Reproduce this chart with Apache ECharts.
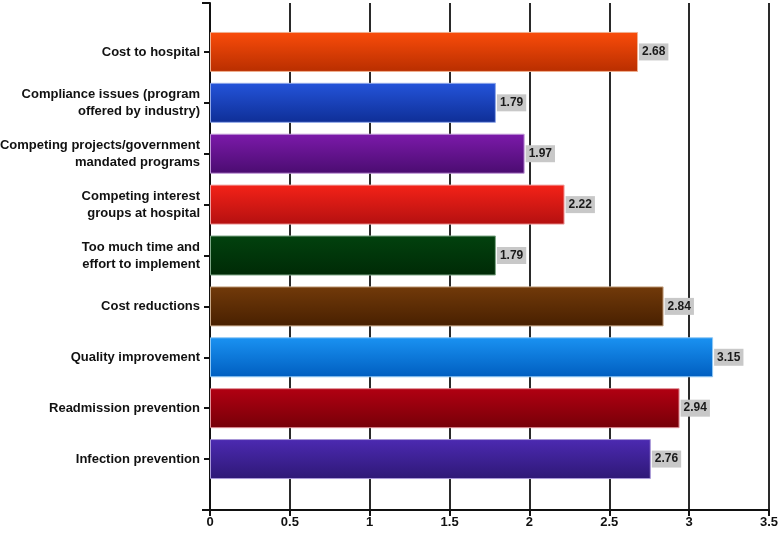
<!DOCTYPE html>
<html>
<head>
<meta charset="utf-8">
<script src="https://cdn.jsdelivr.net/npm/echarts@6/dist/echarts.min.js"></script>
<style>
  html, body { margin: 0; padding: 0; background: #fff; }
  #main { width: 780px; height: 533px; }
</style>
</head>
<body>
<div id="main"></div>
<script>
// data, top to bottom as in the picture
var categories = [
    'Cost to hospital',
    'Compliance issues (program\noffered by industry)',
    'Competing projects/government\nmandated programs',
    'Competing interest\ngroups at hospital',
    'Too much time and\neffort to implement',
    'Cost reductions',
    'Quality improvement',
    'Readmission prevention',
    'Infection prevention'
];
var values = [2.68, 1.79, 1.97, 2.22, 1.79, 2.84, 3.15, 2.94, 2.76];
var xTicks = [0, 0.5, 1, 1.5, 2, 2.5, 3, 3.5];

// top / bottom / border colour of each bar
var barColors = [
    ['#fa4c0a', '#b82e00', '#f0b090'],
    ['#2454da', '#0e2e96', '#90a8e8'],
    ['#7c1aaa', '#4a0c70', '#c098d8'],
    ['#f42218', '#b41010', '#f0a0a0'],
    ['#02420e', '#002a06', '#80a888'],
    ['#723a0a', '#482000', '#c8a888'],
    ['#1a92f2', '#005ec0', '#90c8f4'],
    ['#b20012', '#760008', '#e09098'],
    ['#4c2ab2', '#2e1876', '#a898d8']
];

var chart = echarts.init(document.getElementById('main'), null, { renderer: 'canvas' });

var barData = values.map(function (v, i) {
    var c = barColors[i];
    return {
        value: v,
        itemStyle: {
            color: new echarts.graphic.LinearGradient(0, 0, 0, 1, [
                { offset: 0, color: c[0] },
                { offset: 1, color: c[1] }
            ]),
            borderColor: c[2],
            borderWidth: 1
        }
    };
});

var option = {
    backgroundColor: '#ffffff',
    animation: false,
    grid: [
        { left: 210, right: 11, top: 3, bottom: 23, containLabel: false, outerBoundsMode: 'none' },
        { left: 210, right: 11, top: 26.5, bottom: 48.5, containLabel: false, outerBoundsMode: 'none' }
    ],
    xAxis: [{
        gridIndex: 0,
        type: 'value',
        min: xTicks[0],
        max: xTicks[xTicks.length - 1],
        interval: 0.5,
        axisLine: { show: true, lineStyle: { color: '#111', width: 2 } },
        axisTick: { show: true, length: 6, lineStyle: { color: '#111', width: 2 } },
        axisLabel: {
            color: '#111', fontSize: 13, fontWeight: 'bold',
            fontFamily: 'Liberation Sans', margin: 6
        },
        splitLine: { show: true, lineStyle: { color: '#2a2a2a', width: 2 } }
    }, {
        gridIndex: 1,
        type: 'value',
        min: xTicks[0],
        max: xTicks[xTicks.length - 1],
        show: false
    }],
    yAxis: [{
        gridIndex: 0,
        type: 'value',
        min: 0,
        max: 1,
        interval: 1,
        axisLine: { show: true, lineStyle: { color: '#111', width: 2 } },
        axisTick: { show: true, length: 8, lineStyle: { color: '#111', width: 2 } },
        axisLabel: { show: false },
        splitLine: { show: false }
    }, {
        gridIndex: 1,
        type: 'category',
        inverse: true,
        data: categories,
        axisLine: { show: false },
        axisTick: { show: true, alignWithLabel: true, length: 6, lineStyle: { color: '#111', width: 2 } },
        axisLabel: {
            color: '#111', fontSize: 13, fontWeight: 'bold',
            fontFamily: 'Liberation Sans', margin: 10, lineHeight: 17, align: 'right'
        }
    }],
    series: [{
        type: 'bar',
        xAxisIndex: 1,
        yAxisIndex: 1,
        data: barData,
        barWidth: 40,
        label: {
            show: true,
            position: 'right',
            distance: 1,
            backgroundColor: '#c8c8c8',
            padding: [3, 3, 2, 3],
            color: '#1a1a1a',
            fontSize: 12,
            fontWeight: 'bold',
            fontFamily: 'Liberation Sans',
            formatter: function (p) { return p.value.toFixed(2); }
        }
    }]
};

chart.setOption(option);
</script>
</body>
</html>
